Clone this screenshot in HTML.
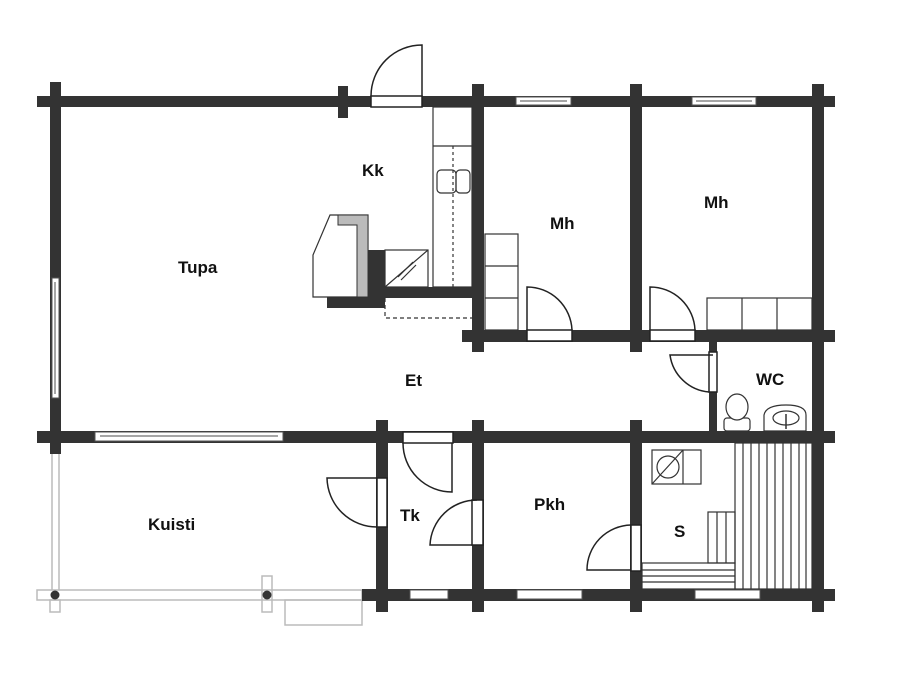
<!DOCTYPE html>
<html><head><style>
html,body{margin:0;padding:0;background:#fff;}
svg{display:block;}
text{font-family:"Liberation Sans",sans-serif;font-weight:bold;font-size:17px;fill:#111;}
</style></head><body>
<svg width="900" height="695" viewBox="0 0 900 695" xmlns="http://www.w3.org/2000/svg">
<!-- porch thin lines -->
<g fill="none" stroke="#bbb" stroke-width="1.5">
<rect x="37" y="590" width="325" height="10"/>
<line x1="52" y1="443" x2="52" y2="590"/><line x1="59" y1="443" x2="59" y2="590"/>
<rect x="50" y="600" width="10" height="12"/>
<rect x="262" y="576" width="10" height="36"/>
<rect x="285" y="600" width="77" height="25"/>
</g>
<circle cx="55" cy="595" r="4.5" fill="#333"/>
<circle cx="267" cy="595" r="4.5" fill="#333"/>
<g fill="#333">
<rect x="37" y="96" width="798" height="11"/>
<rect x="37" y="431" width="798" height="12"/>
<rect x="362" y="589" width="473" height="12"/>
<rect x="462" y="330" width="373" height="12"/>
<rect x="50" y="82" width="11" height="372"/>
<rect x="338" y="86" width="10" height="32"/>
<rect x="472" y="84" width="12" height="268"/>
<rect x="630" y="84" width="12" height="268"/>
<rect x="812" y="84" width="12" height="528"/>
<rect x="376" y="420" width="12" height="192"/>
<rect x="472" y="420" width="12" height="192"/>
<rect x="630" y="420" width="12" height="192"/>
<rect x="709" y="342" width="8" height="95"/>
<rect x="385" y="287" width="93" height="11"/>
<rect x="368" y="250" width="17" height="58"/>
<rect x="327" y="297" width="58" height="11"/>
</g>
<!-- windows -->
<g fill="#fff" stroke="#555" stroke-width="1">
<rect x="516" y="97" width="55" height="8"/>
<rect x="692" y="97" width="64" height="8"/>
<rect x="52" y="278" width="7" height="120"/>
<rect x="95" y="432" width="188" height="9"/>
<rect x="410" y="590" width="38" height="9"/>
<rect x="517" y="590" width="65" height="9"/>
<rect x="695" y="590" width="65" height="9"/>
</g>
<g fill="none" stroke="#888" stroke-width="1.5">
<line x1="55" y1="282" x2="55" y2="394"/>
<line x1="100" y1="436" x2="278" y2="436"/>
<line x1="520" y1="101" x2="567" y2="101"/>
<line x1="696" y1="101" x2="752" y2="101"/>
</g>
<!-- doors -->
<g fill="#fff" stroke="#222" stroke-width="1.5">
<rect x="371" y="96" width="51" height="11"/>
<rect x="527" y="330" width="45" height="11"/>
<rect x="650" y="330" width="45" height="11"/>
<rect x="709" y="352" width="8" height="40"/>
<rect x="403" y="432" width="50" height="11"/>
<rect x="472" y="500" width="11" height="45"/>
<rect x="377" y="478" width="10" height="49"/>
<rect x="631" y="525" width="10" height="46"/>
</g>
<g fill="none" stroke="#222" stroke-width="1.5">
<path d="M371 96 A51 51 0 0 1 422 45 L422 96"/>
<path d="M527 330 L527 287 A45 45 0 0 1 572 330"/>
<path d="M650 330 L650 287 A45 45 0 0 1 695 330"/>
<path d="M713 355 L670 355 A43 43 0 0 0 709 392"/>
<path d="M403 443 A49 49 0 0 0 452 492 L452 443"/>
<path d="M472 545 L430 545 A47 47 0 0 1 477 500"/>
<path d="M377 478 L327 478 A50 50 0 0 0 377 527"/>
<path d="M631 570 L587 570 A45 45 0 0 1 631 525"/>
</g>
<!-- kitchen fittings -->
<g fill="none" stroke="#333" stroke-width="1.2">
<rect x="433" y="107" width="39" height="180"/>
<line x1="433" y1="146" x2="472" y2="146"/>
<rect x="437" y="170" width="19" height="23" rx="4"/>
<rect x="456" y="170" width="14" height="23" rx="4"/>
<line x1="453" y1="146" x2="453" y2="287" stroke-dasharray="3,3"/>
<rect x="385" y="250" width="43" height="37"/>
<line x1="385" y1="287" x2="428" y2="250"/>
<line x1="398" y1="277" x2="413" y2="262"/><line x1="401" y1="280" x2="416" y2="265"/>
<path d="M385 298 L385 318 L472 318" stroke-dasharray="4,3"/>
<rect x="485" y="234" width="33" height="96"/>
<line x1="485" y1="266" x2="518" y2="266"/><line x1="485" y1="298" x2="518" y2="298"/>
<rect x="707" y="298" width="105" height="32"/>
<line x1="742" y1="298" x2="742" y2="330"/><line x1="777" y1="298" x2="777" y2="330"/>
</g>
<!-- stove -->
<polygon points="313,297 313,255 330,215 368,215 368,297" fill="#fff" stroke="#333" stroke-width="1.2"/>
<polygon points="338,215 368,215 368,297 357,297 357,225 338,225" fill="#bbb" stroke="#333" stroke-width="1"/>
<!-- WC -->
<g fill="#fff" stroke="#333" stroke-width="1.2">
<rect x="724" y="418" width="26" height="13" rx="3"/>
<ellipse cx="737" cy="407" rx="11" ry="13"/>
<path d="M764 431 L764 415 Q766 405 786 405 Q806 405 806 415 L806 431 Z"/>
<ellipse cx="786" cy="418" rx="13" ry="7"/>
</g>
<line x1="786" y1="414" x2="786" y2="429" stroke="#333" stroke-width="1.5"/>
<!-- sauna -->
<g fill="none" stroke="#333" stroke-width="1.2">
<rect x="652" y="450" width="49" height="34"/>
<line x1="683" y1="450" x2="683" y2="484"/>
<circle cx="668" cy="467" r="11"/>
<line x1="652" y1="484" x2="683" y2="450"/>
<rect x="735" y="443" width="77" height="146"/>
<path d="M743 443V589M751 443V589M759 443V589M767 443V589M775 443V589M783 443V589M791 443V589M799 443V589M806 443V589"/>
<rect x="642" y="563" width="93" height="26"/>
<path d="M642 570H735M642 576H735M642 582H735"/>
<rect x="708" y="512" width="27" height="51"/>
<path d="M717 512V563M726 512V563"/>
</g>
<!-- labels -->
<text x="178" y="273">Tupa</text>
<text x="362" y="176">Kk</text>
<text x="550" y="229">Mh</text>
<text x="704" y="208">Mh</text>
<text x="405" y="386">Et</text>
<text x="756" y="385">WC</text>
<text x="148" y="530">Kuisti</text>
<text x="400" y="521">Tk</text>
<text x="534" y="510">Pkh</text>
<text x="674" y="537">S</text>
</svg>
</body></html>
